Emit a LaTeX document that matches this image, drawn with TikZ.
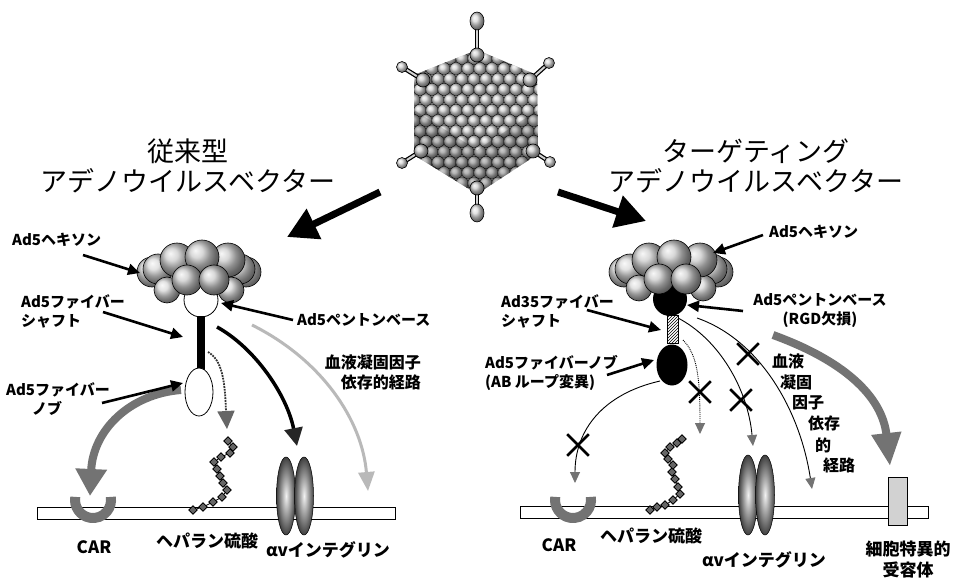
\documentclass[tikz,border=0pt]{standalone}
\usepackage{fontspec}
\newfontfamily\jp{Noto Sans CJK JP}
\usetikzlibrary{arrows.meta,patterns,shapes.geometric,shapes.misc}

\tikzset{
  lbl/.style={font=\jp\bfseries\fontsize{15}{19}\selectfont, inner sep=0pt},
  kanji/.style={font=\jp\bfseries\fontsize{16}{20}\selectfont, inner sep=0pt},
  btm/.style={font=\jp\bfseries\fontsize{17}{21}\selectfont, inner sep=0pt},
  ttl/.style={font=\jp\fontsize{27}{30}\selectfont, align=center, inner sep=0pt},
  callout/.style={line width=2.6pt, -{Triangle[length=12pt,width=11pt]}},
  bigarrow/.style={line width=7pt, -{Triangle[length=30pt,width=32pt]}},
  hexball/.style={ball color=gray!40, draw=black, line width=0.6pt},
  backball/.style={ball color=gray!30, draw=black, line width=0.6pt},
  capsid/.style={ball color=gray!35, draw=black, line width=0.35pt},
  membrane/.style={draw=black, fill=white, line width=0.8pt},
  hs/.style={diamond, draw=black, fill=black!60, line width=0.7pt, inner sep=0pt, minimum size=8.5pt},
  integ/.style={inner color=gray!10, outer color=black!75, draw=black, line width=0.5pt},
  carshape/.style={draw=black!55, line width=10pt},
  xmark/.style={cross out, draw=black, line width=2.6pt, inner sep=0pt, minimum size=19pt},
  thinpath/.style={line width=0.9pt, -{Triangle[length=11pt,width=10pt,color=black!55]}},
}

\begin{document}
\begin{tikzpicture}[x=1pt,y=-1pt]
\useasboundingbox (0,0) rectangle (959,583);
\fill[white] (0,0) rectangle (959,583);

% ---------------- adenovirus particle ----------------
\begin{scope}
  \clip (477,50) -- (537,75) -- (538,154) -- (477,194) -- (414,155) -- (414,75) -- cycle;
  \fill[gray!50] (410,45) rectangle (545,200);
  \foreach \r in {0,...,15} {
    \foreach \c in {0,...,11} {
      \pgfmathsetmacro\xx{408+\c*12+mod(\r,2)*6}
      \pgfmathsetmacro\yy{48+\r*10.4}
      \shadedraw[capsid] (\xx,\yy) circle (6.3pt);
    }
  }
  \fill[black, opacity=0.18] (414,110) -- (477,150) -- (538,110) -- (538,154) -- (477,194) -- (414,155) -- cycle;
\end{scope}
% fibres at the vertices
\foreach \vx/\vy/\kx/\ky [count=\i] in {477/55/477/21, 423/80/402/67, 530/80/549/63, 421/151/402/163, 533/151/550/162, 477/188/477/213} {
  \draw[line width=4.5pt, black] (\vx,\vy) -- (\kx,\ky);
  \draw[line width=2pt, gray!35] (\vx,\vy) -- (\kx,\ky);
  \shadedraw[ball color=gray!40, draw=black, line width=0.6pt] (\vx,\vy) circle (7pt);
  \shadedraw[ball color=gray!30, draw=black, line width=0.6pt] (\kx,\ky) circle (5.5pt);
}
\shadedraw[ball color=gray!30, draw=black, line width=0.6pt] (477,21) ellipse [x radius=7pt, y radius=9pt];
\shadedraw[ball color=gray!30, draw=black, line width=0.6pt] (477,213) ellipse [x radius=7pt, y radius=9pt];
\node[inner sep=0pt] (virus) at (477,120) {};

% ---------------- titles ----------------
\node[ttl] (titleL) at (188,166) {従来型\\アデノウイルスベクター};
\node[ttl] (titleR) at (756,166) {ターゲティング\\アデノウイルスベクター};

\coordinate (bigLs) at (380,192);
\coordinate (bigLe) at (287,237);
\coordinate (bigRs) at (558,192);
\coordinate (bigRe) at (646,221);
\draw[bigarrow] (bigLs) -- (bigLe);
\draw[bigarrow] (bigRs) -- (bigRe);

% ---------------- membranes ----------------
\node[membrane, minimum width=358pt, minimum height=12pt, inner sep=0pt] (memL) at (216,513) {};
\node[membrane, minimum width=408pt, minimum height=12pt, inner sep=0pt] (memR) at (724,512.5) {};

% ================= conventional vector (left) =================
% pathways
\coordinate (pCARs) at (181,390);
\coordinate (pCARe) at (90,496);
\draw[line width=8pt, black!55, -{Triangle[length=27pt,width=30pt]}] (pCARs) .. controls (130,394) and (93,430) .. (pCARe);

\coordinate (pHSs) at (208,352);
\coordinate (pHSe) at (227,429);
\draw[line width=1.8pt, black!80, densely dotted] (pHSs) .. controls (222,360) and (225,380) .. (226,412);
\draw[line width=1.8pt, black!80, -{Triangle[length=18pt,width=17pt,color=black!60]}] (226,411) -- (pHSe);

\coordinate (pITs) at (217,327);
\coordinate (pITe) at (297,446);
\draw[line width=3.5pt, black, -{Triangle[length=18pt,width=18pt,color=black!85]}] (pITs) .. controls (255,348) and (287,395) .. (pITe);

\coordinate (pFXs) at (252,325);
\coordinate (pFXe) at (368,491);
\draw[line width=3pt, gray!55, -{Triangle[length=19pt,width=16pt]}] (pFXs) .. controls (322,360) and (362,420) .. (pFXe);

% hexon / penton / fibre
\begin{scope}
  \shadedraw[backball] (152,272) circle (15pt);
  \shadedraw[backball] (158,269) circle (15pt);
  \shadedraw[backball] (246,272) circle (15pt);
  \shadedraw[backball] (240,269) circle (15pt);
  \shadedraw[backball] (167,290) circle (13pt);
  \shadedraw[backball] (231,290) circle (13pt);
  \node[circle, draw=black, fill=white, line width=0.8pt, minimum size=34pt, inner sep=0pt] (pentonL) at (201,300) {};
  \shadedraw[hexball] (177,260) circle (17pt);
  \shadedraw[hexball] (228,260) circle (17pt);
  \shadedraw[hexball] (202,257) circle (17pt);
  \shadedraw[hexball] (187,280) circle (15pt);
  \shadedraw[hexball] (214,280) circle (15pt);
\end{scope}
\node[inner sep=0pt] (hexonL) at (199,268) {};
\node[rectangle, fill=black, minimum width=8pt, minimum height=55pt, inner sep=0pt] (shaftL) at (201,343) {};
\node[ellipse, draw=black, fill=white, line width=0.8pt, minimum width=28pt, minimum height=48pt, inner sep=0pt] (knobL) at (199,392) {};

% receptors
\node[inner sep=0pt] (carL) at (93,500) {};
\draw[carshape] (75.3,496.9) arc[start angle=170, end angle=370, radius=18pt];
\foreach \p [count=\i] in {(193,510),(203,507),(213,502),(222,497),(227,490),(223,483),(220,476),(217,469),(214,462),(221,457),(230,453),(233,447),(228,441)} {
  \node[hs] (hsL\i) at \p {};
}
\draw[line width=0.8pt] (hsL1) -- (hsL2) -- (hsL3) -- (hsL4) -- (hsL5) -- (hsL6) -- (hsL7) -- (hsL8) -- (hsL9) -- (hsL10) -- (hsL11) -- (hsL12) -- (hsL13);
\foreach \p in {(193,510),(203,507),(213,502),(222,497),(227,490),(223,483),(220,476),(217,469),(214,462),(221,457),(230,453),(233,447),(228,441)} {
  \node[hs] at \p {};
}
\shadedraw[integ] (286,496) ellipse [x radius=9.5pt, y radius=39pt];
\shadedraw[integ] (304,496) ellipse [x radius=9.5pt, y radius=39pt];
\node[inner sep=0pt] (intL) at (295,496) {};

% labels
\node[lbl, anchor=west] (lHexL) at (12,240) {Ad5ヘキソン};
\node[lbl, anchor=west, align=left] (lShaftL) at (21,311) {Ad5ファイバー\\シャフト};
\node[lbl, anchor=west] (lPentonL) at (297,320) {Ad5ペントンベース};
\node[lbl, anchor=west, align=left] (lKnobL) at (6,399) {Ad5ファイバー\\\hspace*{26pt}ノブ};
\node[kanji, anchor=east, align=right] (lFXL) at (421,372) {血液凝固因子\\依存的経路};
\node[btm] (lCARL) at (94,547) {CAR};
\node[btm] (lHSL) at (207,541) {ヘパラン硫酸};
\node[btm] (lIntL) at (328,550) {αvインテグリン};

\coordinate (cHexL) at (140,273);
\coordinate (cShaftL) at (183,337);
\coordinate (cPentonL) at (221,303);
\coordinate (cKnobL) at (183,383);
\draw[callout] (83,255) -- (cHexL);
\draw[callout] (103,312) -- (cShaftL);
\draw[callout] (293,320) -- (cPentonL);
\draw[callout] (102,403) -- (cKnobL);

% ================= targeting vector (right) =================
\coordinate (qGs) at (773,335);
\coordinate (qGe) at (890,466);
\draw[line width=8pt, black!55, -{Triangle[length=33pt,width=28pt]}] (qGs) .. controls (842,360) and (882,395) .. (qGe);

\coordinate (qCARs) at (660,381);
\coordinate (qCARe) at (575,483);
\draw[thinpath] (qCARs) .. controls (603,394) and (575,430) .. (qCARe);
\coordinate (qHSs) at (683,340);
\coordinate (qHSe) at (700,434);
\draw[thinpath, densely dotted] (qHSs) .. controls (698,355) and (700,380) .. (qHSe);
\coordinate (qITs) at (678,318);
\coordinate (qITe) at (753,446);
\draw[thinpath] (qITs) .. controls (720,340) and (748,390) .. (qITe);
\coordinate (qFXs) at (697,318);
\coordinate (qFXe) at (812,489);
\draw[thinpath] (qFXs) .. controls (760,340) and (800,410) .. (qFXe);

\node[xmark] (x1) at (578,445) {};
\node[xmark] (x2) at (700,392) {};
\node[xmark] (x3) at (741,400) {};
\node[xmark] (x4) at (748,354) {};

\begin{scope}[shift={(472,0)}]
  \shadedraw[backball] (152,272) circle (15pt);
  \shadedraw[backball] (158,269) circle (15pt);
  \shadedraw[backball] (246,272) circle (15pt);
  \shadedraw[backball] (240,269) circle (15pt);
  \shadedraw[backball] (167,288) circle (13pt);
  \shadedraw[backball] (231,288) circle (13pt);
  \node[circle, fill=black, minimum size=34pt, inner sep=0pt] (pentonR) at (198,299) {};
  \shadedraw[hexball] (177,260) circle (17pt);
  \shadedraw[hexball] (228,260) circle (17pt);
  \shadedraw[hexball] (202,257) circle (17pt);
  \shadedraw[hexball] (187,279) circle (15pt);
  \shadedraw[hexball] (214,279) circle (15pt);
\end{scope}
\node[inner sep=0pt] (hexonR) at (671,268) {};
\node[rectangle, draw=black, line width=0.6pt, pattern=north east lines, minimum width=11pt, minimum height=28pt, inner sep=0pt] (shaftR) at (672.5,329) {};
\node[ellipse, fill=black, minimum width=31pt, minimum height=41pt, inner sep=0pt] (knobR) at (672,365) {};

\node[inner sep=0pt] (carR) at (573,500) {};
\draw[carshape] (555.3,496.9) arc[start angle=170, end angle=370, radius=18pt];
\foreach \p [count=\i] in {(650,510),(657,507),(665,505),(673,500),(680,494),(678,487),(675,479),(672,472),(673,465),(668,459),(665,453),(670,447),(677,443),(682,439)} {
  \node[hs] (hsR\i) at \p {};
}
\draw[line width=0.8pt] (hsR1) -- (hsR2) -- (hsR3) -- (hsR4) -- (hsR5) -- (hsR6) -- (hsR7) -- (hsR8) -- (hsR9) -- (hsR10) -- (hsR11) -- (hsR12) -- (hsR13) -- (hsR14);
\foreach \p in {(650,510),(657,507),(665,505),(673,500),(680,494),(678,487),(675,479),(672,472),(673,465),(668,459),(665,453),(670,447),(677,443),(682,439)} {
  \node[hs] at \p {};
}
\shadedraw[integ] (748,495) ellipse [x radius=9.5pt, y radius=40pt];
\shadedraw[integ] (765,495) ellipse [x radius=9.5pt, y radius=40pt];
\node[inner sep=0pt] (intR) at (756,495) {};
\node[rectangle, draw=black, fill=gray!35, line width=0.8pt, minimum width=19pt, minimum height=48pt, inner sep=0pt] (recR) at (897.5,501) {};

% labels
\node[lbl, anchor=west] (lHexR) at (769,232) {Ad5ヘキソン};
\node[lbl, anchor=west, align=left] (lShaftR) at (501,311) {Ad35ファイバー\\シャフト};
\node[lbl, align=center] (lPentonR) at (820,311) {Ad5ペントンベース\\(RGD欠損)};
\node[lbl, anchor=west, align=left] (lKnobR) at (485,373) {Ad5ファイバーノブ\\(AB ループ変異)};
\node[kanji] (fx1) at (788,361) {血液};
\node[kanji] (fx2) at (796,382) {凝固};
\node[kanji] (fx3) at (808,403) {因子};
\node[kanji] (fx4) at (824,423) {依存};
\node[kanji] (fx5) at (823,445) {的};
\node[kanji] (fx6) at (839,465) {経路};
\node[btm] (lCARR) at (559,545) {CAR};
\node[btm] (lHSR) at (651,536) {ヘパラン硫酸};
\node[btm] (lIntR) at (764,560) {αvインテグリン};
\node[btm, align=center] (lRecR) at (908,560) {細胞特異的\\受容体};

\coordinate (cHexR) at (713,253);
\coordinate (cShaftR) at (661,330);
\coordinate (cPentonR) at (687,305);
\coordinate (cKnobR) at (654,360);
\draw[callout] (763,235) -- (cHexR);
\draw[callout] (587,310) -- (cShaftR);
\draw[callout] (743,311) -- (cPentonR);
\draw[callout] (607,375) -- (cKnobR);

\end{tikzpicture}
\end{document}
